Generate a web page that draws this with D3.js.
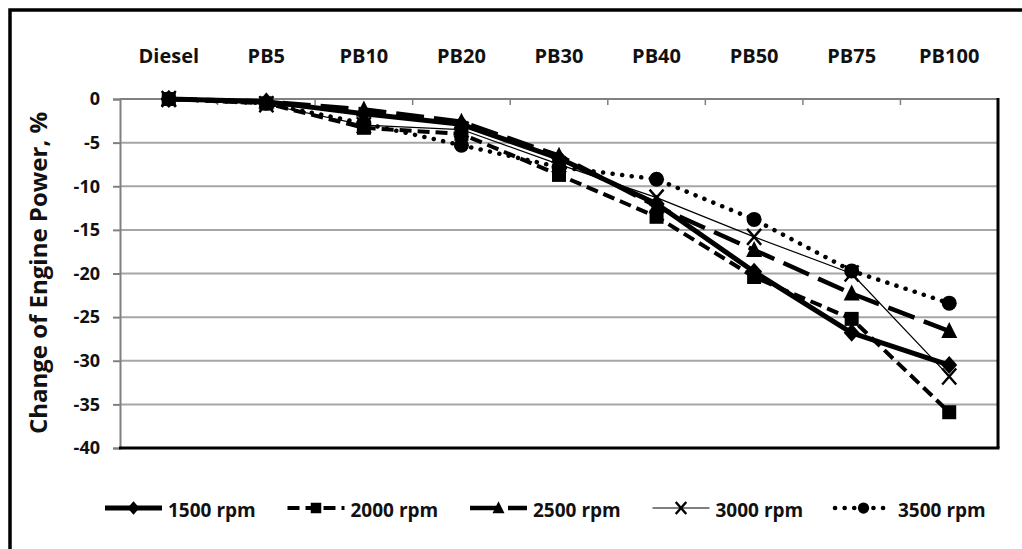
<!DOCTYPE html>
<html><head><meta charset="utf-8">
<script src="https://cdn.jsdelivr.net/npm/d3@7"></script>
<style>
html,body{margin:0;padding:0;background:#fff;}
svg{display:block;font-family:"Open Sans",sans-serif;font-weight:bold;}
</style></head>
<body>
<script>
const categories = ["Diesel","PB5","PB10","PB20","PB30","PB40","PB50","PB75","PB100"];
const seriesNames = ["1500 rpm","2000 rpm","2500 rpm","3000 rpm","3500 rpm"];
const rpm1500 = [0, -0.3, -1.7, -2.9, -6.8, -12.0, -19.8, -26.8, -30.5];
const rpm2000 = [0, -0.5, -3.3, -4.0, -8.7, -13.5, -20.4, -25.2, -35.9];
const rpm2500 = [0, -0.3, -1.2, -2.6, -6.5, -12.3, -17.3, -22.3, -26.6];
const rpm3000 = [0, -0.6, -3.0, -3.5, -7.5, -11.3, -15.8, -20.0, -31.8];
const rpm3500 = [0, -0.5, -2.8, -5.3, -7.8, -9.2, -13.8, -19.7, -23.4];
const yTicks = [0,-5,-10,-15,-20,-25,-30,-35,-40];
const yTitle = "Change of Engine Power, %";

const W = 1022, H = 549;
const svg = d3.select("body").append("svg").attr("width", W).attr("height", H);
svg.append("rect").attr("width", W).attr("height", H).attr("fill", "#fff");
// outer frame
svg.append("rect").attr("x", 10).attr("y", 10).attr("width", 1040).attr("height", 580)
  .attr("fill", "none").attr("stroke", "#000").attr("stroke-width", 3.5);

const L = 120, R = 998, T = 99, B = 448;
const x = d3.scaleBand().domain(categories).range([L, R]);
const y = d3.scaleLinear().domain([-40, 0]).range([B, T]);
const cx = c => x(c) + x.bandwidth() / 2;

// gridlines
svg.append("g").selectAll("line").data(yTicks.filter(v => v < 0 && v > -40)).join("line")
  .attr("x1", L).attr("x2", R).attr("y1", d => y(d)).attr("y2", d => y(d))
  .attr("stroke", "#a6a6a6").attr("stroke-width", 2);

// y axis
const yAxis = d3.axisLeft(y).tickValues(yTicks).tickSize(7).tickPadding(13).tickFormat(d => String(d));
const ga = svg.append("g").attr("transform", `translate(${L},0)`).call(yAxis);
ga.select(".domain").attr("stroke", "#808080").attr("stroke-width", 2);
ga.selectAll(".tick line").attr("stroke", "#808080").attr("stroke-width", 2);
ga.selectAll(".tick text").attr("fill", "#111").attr("font-size", 18)
  .attr("font-family", "'Open Sans',sans-serif").attr("font-weight", "bold");

// zero line (category axis) with ticks at band boundaries
svg.append("line").attr("x1", L).attr("x2", R).attr("y1", y(0)).attr("y2", y(0))
  .attr("stroke", "#808080").attr("stroke-width", 2);
svg.append("g").selectAll("line").data(categories.slice(1)).join("line")
  .attr("x1", d => x(d)).attr("x2", d => x(d)).attr("y1", y(0)).attr("y2", y(0) + 6)
  .attr("stroke", "#808080").attr("stroke-width", 1.5);

// plot border right & bottom
svg.append("line").attr("x1", L - 1).attr("x2", R + 1.5).attr("y1", B).attr("y2", B)
  .attr("stroke", "#000").attr("stroke-width", 3);
svg.append("line").attr("x1", R).attr("x2", R).attr("y1", T - 1).attr("y2", B)
  .attr("stroke", "#000").attr("stroke-width", 3);

// category labels at top
svg.append("g").selectAll("text").data(categories).join("text")
  .attr("x", d => cx(d)).attr("y", 63).attr("text-anchor", "middle")
  .attr("font-size", 20).attr("fill", "#111").text(d => d);

// y title
svg.append("text").attr("transform", `translate(47,273) rotate(-90)`)
  .attr("text-anchor", "middle").attr("font-size", 24).attr("fill", "#111").text(yTitle);

// series styles
const data = [rpm1500, rpm2000, rpm2500, rpm3000, rpm3500];
const styles = [
  {w: 5, dash: null, cap: "butt", marker: "diamond"},
  {w: 4, dash: "12,6", cap: "butt", marker: "square"},
  {w: 4.5, dash: "28,10", cap: "butt", marker: "triangle"},
  {w: 1.2, dash: null, cap: "butt", marker: "x"},
  {w: 4.5, dash: "0.1,9.5", cap: "round", marker: "circle"}
];

function drawMarker(g, type, px, py, k) {
  if (type === "diamond") {
    g.append("path").attr("d", `M${px},${py-9*k}L${px+8*k},${py}L${px},${py+9*k}L${px-8*k},${py}Z`).attr("fill", "#000");
  } else if (type === "square") {
    g.append("rect").attr("x", px-7*k).attr("y", py-7*k).attr("width", 14*k).attr("height", 14*k).attr("fill", "#000");
  } else if (type === "triangle") {
    g.append("path").attr("d", `M${px},${py-9*k}L${px+8*k},${py+7*k}L${px-8*k},${py+7*k}Z`).attr("fill", "#000");
  } else if (type === "x") {
    g.append("path").attr("d", `M${px-7*k},${py-8*k}L${px+7*k},${py+8*k}M${px+7*k},${py-8*k}L${px-7*k},${py+8*k}`)
      .attr("stroke", "#000").attr("stroke-width", 2.4).attr("fill", "none");
  } else if (type === "circle") {
    g.append("circle").attr("cx", px).attr("cy", py).attr("r", 7.5*k).attr("fill", "#000");
  }
}

const line = d3.line().x((d, i) => cx(categories[i])).y(d => y(d));
const plot = svg.append("g");
data.forEach((vals, si) => {
  const s = styles[si];
  const g = plot.append("g");
  g.append("path").attr("d", line(vals)).attr("fill", "none").attr("stroke", "#000")
    .attr("stroke-width", s.w).attr("stroke-dasharray", s.dash).attr("stroke-linecap", s.cap)
    .attr("stroke-linejoin", "round");
  vals.forEach((v, i) => drawMarker(g, s.marker, cx(categories[i]), y(v), 1));
});

// legend
const legY = 508;
const leg = svg.append("g");
seriesNames.forEach((name, si) => {
  const s = styles[si];
  const x0 = 105 + si * 182.5;
  const g = leg.append("g");
  g.append("line").attr("x1", x0).attr("x2", x0 + 57).attr("y1", legY).attr("y2", legY)
    .attr("stroke", "#000").attr("stroke-width", s.w).attr("stroke-dasharray", s.dash)
    .attr("stroke-linecap", s.cap);
  drawMarker(g, s.marker, x0 + 28.5, legY, 0.75);
  g.append("text").attr("x", x0 + 63).attr("y", legY + 9).attr("font-size", 19)
    .attr("fill", "#111").text(name);
});
</script>
</body></html>
